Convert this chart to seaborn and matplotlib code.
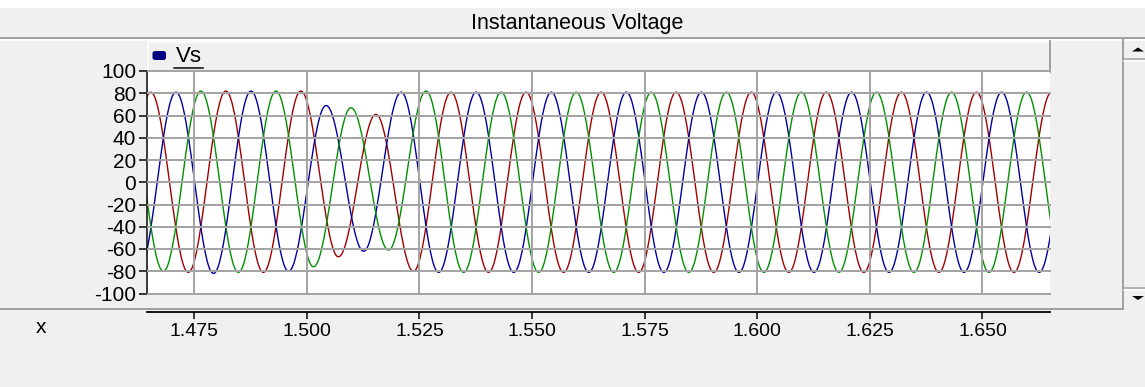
import numpy as np
import pandas as pd
import matplotlib
matplotlib.use("Agg")
import matplotlib.pyplot as plt
import seaborn as sns
from matplotlib.patches import Rectangle, FancyBboxPatch, Polygon

# ---------------- data ----------------
title = "Instantaneous Voltage"
legend_label = "Vs"
x_label = "x"
x_ticks = [1.475, 1.500, 1.525, 1.550, 1.575, 1.600, 1.625, 1.650]
x_tick_labels = ["1.475", "1.500", "1.525", "1.550", "1.575", "1.600", "1.625", "1.650"]
y_ticks = [100, 80, 60, 40, 20, 0, -20, -40, -60, -80, -100]
x_range = [1.4645, 1.665]
y_range = [-100, 100]
freq_hz = 60.0
phase_names = ["A", "B", "C"]
# time of the first extremum of each phase (s)
phase_first_t = [1.4570, 1.4626, 1.4598]
# successive extremum values (peak / trough, one per half cycle)
phase_a_extrema = [-81, 81, -81, 82, -81, 82, -67, 61, -80, 81, -81, 81, -81,
                   81, -81, 81, -81, 81, -81, 81, -81, 81, -81, 81, -81, 81]
phase_b_extrema = [-81, 81, -82, 82, -80, 69, -62, 81, -81, 81, -81, 81, -81,
                   81, -81, 81, -81, 81, -81, 81, -81, 81, -81, 81, -81, 81]
phase_c_extrema = [81, -80, 82, -81, 82, -76, 67, -61, 82, -81, 81, -81, 81,
                   -81, 81, -81, 81, -81, 81, -81, 81, -81, 81, -81, 81, -81]
phase_colors = {"A": "#A00000", "B": "#0000A0", "C": "#009000"}

# ---------------- build long table ----------------
half = 0.5 / freq_hz
rows = []
for name, t_first, ext in zip(phase_names, phase_first_t,
                              [phase_a_extrema, phase_b_extrema, phase_c_extrema]):
    for k in range(len(ext) - 1):
        ta = t_first + k * half
        ts = np.linspace(ta, ta + half, 40, endpoint=False)
        a, b = ext[k], ext[k + 1]
        v = (a + b) / 2 + (a - b) / 2 * np.cos(np.pi * (ts - ta) / half)
        for t_, v_ in zip(ts, v):
            rows.append((name, t_, v_))
df = pd.DataFrame(rows, columns=["phase", "t", "V"])

# ---------------- figure ----------------
plt.rcParams['font.family'] = ['Liberation Sans', 'DejaVu Sans']
W, H = 1145, 387
fig = plt.figure(figsize=(W / 100, H / 100), dpi=100, facecolor="#F0F0F0")
PX = 72 / 100  # points per pixel

# background / chrome axes in pixel coordinates
bg = fig.add_axes([0, 0, 1, 1])
bg.set_xlim(0, W)
bg.set_ylim(H, 0)
bg.axis("off")
bg.set_zorder(-1)
bg.add_patch(Rectangle((0, 0), W, 8, fc="white", ec="none"))
bg.plot([0, W], [37.5, 37.5], color="#A0A0A0", lw=2 * PX)
bg.plot([0, W], [40, 40], color="white", lw=1.5 * PX)
bg.plot([0, 1123], [308.5, 308.5], color="#A0A0A0", lw=2 * PX)
# scrollbar
bg.plot([1123, 1123], [38, 309], color="#A0A0A0", lw=2 * PX)
bg.plot([1123, W], [58.5, 58.5], color="#A0A0A0", lw=1.5 * PX)
bg.plot([1124, W], [60.5, 60.5], color="white", lw=1.5 * PX)
bg.plot([1123, W], [287.5, 287.5], color="#A0A0A0", lw=1.5 * PX)
bg.plot([1124, W], [289.5, 289.5], color="white", lw=1.5 * PX)
bg.add_patch(Polygon([[1132, 51.5], [1144, 51.5], [1138, 47.5]], closed=True, fc="black", ec="none"))
bg.add_patch(Polygon([[1132, 296], [1144, 296], [1138, 300]], closed=True, fc="black", ec="none"))
# legend strip
bg.plot([148, 1049], [41.5, 41.5], color="white", lw=1.5 * PX)
bg.plot([148, 148], [41.5, 71], color="white", lw=1.5 * PX)
bg.plot([1049.5, 1049.5], [41, 72], color="#A0A0A0", lw=2 * PX)
bg.plot([148, 1050], [71, 71], color="#A0A0A0", lw=2 * PX)
bg.add_patch(FancyBboxPatch((152.5, 51), 13.5, 9, boxstyle="round,pad=0,rounding_size=2.5",
                            fc="#000080", ec="none"))
bg.text(175.5, 57, legend_label, ha="left", va="center", fontsize=16, color="black")
bg.plot([174, 202.5], [67.5, 67.5], color="black", lw=1.5 * PX)
# title and x label
bg.text(577, 23, title, ha="center", va="center", fontsize=15.5, color="black")
bg.text(41.5, 327.5, x_label, ha="center", va="center", fontsize=15, color="black")

# main plot axes
left, right, top, bottom = 147, 1050, 71, 293.5
ax = fig.add_axes([left / W, 1 - bottom / H, (right - left) / W, (bottom - top) / H])
ax.set_facecolor("white")
sns.lineplot(data=df, x="t", y="V", hue="phase", palette=phase_colors,
             estimator=None, sort=False, legend=False, lw=1.0, ax=ax)
ax.set_xlim(*x_range)
ax.set_ylim(*y_range)
ax.set_xticks(x_ticks)
ax.set_xticklabels(x_tick_labels)
ax.set_yticks(y_ticks)
ax.set_yticklabels([str(v) for v in y_ticks])
ax.set_xlabel("")
ax.set_ylabel("")
ax.set_axisbelow(False)
ax.grid(True, color="#A4A4A4", lw=2 * PX)
for gl in ax.get_ygridlines():
    gl.set_clip_on(False)
for s in ["top", "right"]:
    ax.spines[s].set_visible(False)
ax.spines["left"].set_color("black")
ax.spines["left"].set_linewidth(1.5 * PX)
ax.spines["bottom"].set_color("black")
ax.spines["bottom"].set_linewidth(1.8 * PX)
ax.spines["bottom"].set_position(("outward", 18.5 * PX))
ax.tick_params(axis="y", direction="out", length=8 * PX, width=1.5 * PX, pad=2,
               labelsize=15, colors="black")
ax.tick_params(axis="x", direction="out", length=7 * PX, width=1.5 * PX, pad=3,
               labelsize=14, colors="black")

fig.savefig("out.png", dpi=100, facecolor=fig.get_facecolor())
